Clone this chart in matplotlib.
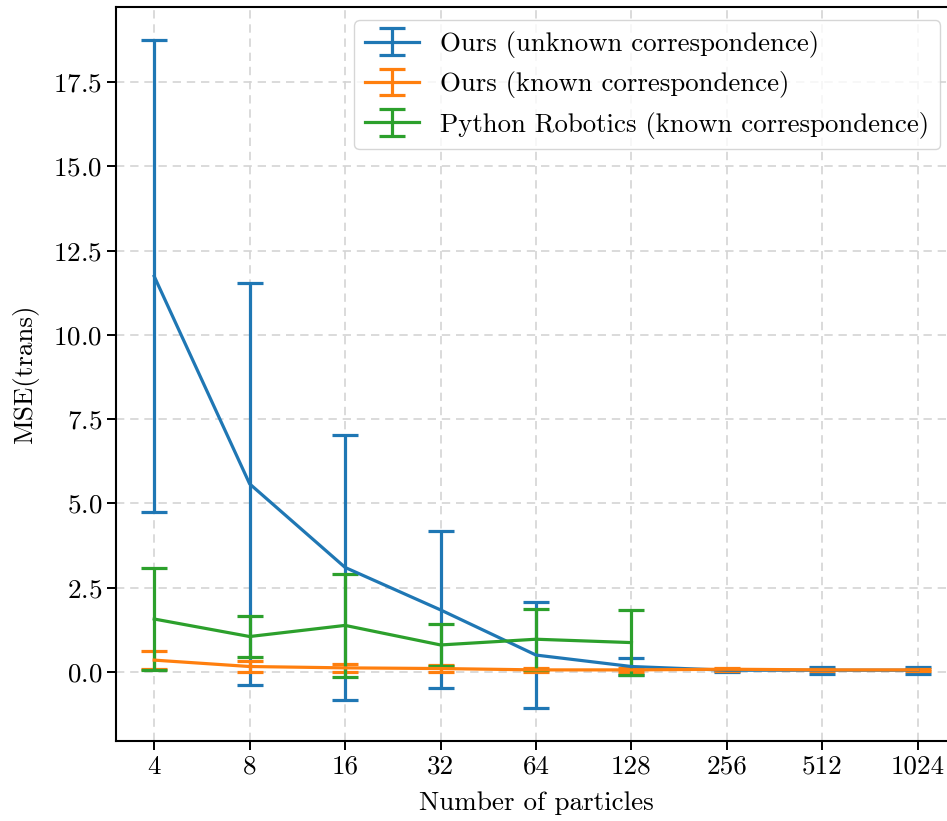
import numpy as np
import matplotlib.pyplot as plt

# ==============================
# DATA
# ==============================

particles = ["4", "8", "16", "32", "64", "128", "256", "512", "1024"]

# ours, unknown correspondence
unk_mean = [11.74, 5.58, 3.10, 1.84, 0.50, 0.16, 0.05, 0.05, 0.05]
unk_std = [7.00, 5.96, 3.94, 2.33, 1.56, 0.25, 0.05, 0.10, 0.10]

# ours, known correspondence
kn_mean = [0.35, 0.16, 0.12, 0.10, 0.06, 0.06, 0.08, 0.06, 0.06]
kn_std = [0.27, 0.15, 0.11, 0.11, 0.05, 0.05, 0.05, 0.03, 0.04]

# python robotics, known correspondence (only up to 128)
pr_mean = [1.57, 1.05, 1.38, 0.80, 0.97, 0.87]
pr_std = [1.52, 0.61, 1.52, 0.61, 0.90, 0.97]

# ==============================
# STYLE
# ==============================

plt.rcParams['font.family'] = 'cmr10'
plt.rcParams['mathtext.fontset'] = 'cm'
plt.rcParams['axes.formatter.use_mathtext'] = True
plt.rcParams['axes.unicode_minus'] = False

fig = plt.figure(figsize=(9.47, 8.21), dpi=100)
ax = fig.add_axes([116/947, 1-741/821, 840/947, 734/821])

x = np.arange(len(particles))

kw = dict(lw=2.3, capsize=9.7, capthick=2.3, elinewidth=2.3)
ax.errorbar(x, unk_mean, yerr=unk_std, color='#1f77b4',
            label="Ours (unknown correspondence)", **kw)
ax.errorbar(x, kn_mean, yerr=kn_std, color='#ff7f0e',
            label="Ours (known correspondence)", **kw)
ax.errorbar(x[:len(pr_mean)], pr_mean, yerr=pr_std, color='#2ca02c',
            label="Python Robotics (known correspondence)", **kw)

ax.set_xticks(x)
ax.set_xticklabels(particles)
ax.set_xlim(-0.4, 8.4)

ax.grid(True, linestyle=(0, (5, 3.5)), color='#d4d4d4', lw=1.2)
ax.set_axisbelow(True)

for s in ax.spines.values():
    s.set_linewidth(1.5)
ax.tick_params(labelsize=19.5, length=6.5, width=1.4)

ax.set_xlabel("Number of particles", fontsize=19.5, labelpad=9)
ax.set_ylabel("MSE(trans)", fontsize=19.5, labelpad=10)

ax.legend(loc='upper right', bbox_to_anchor=(0.981, 0.982), borderaxespad=0,
          fontsize=19.3, framealpha=0.8, edgecolor='#cccccc')

fig.savefig("out.png", dpi=100)
